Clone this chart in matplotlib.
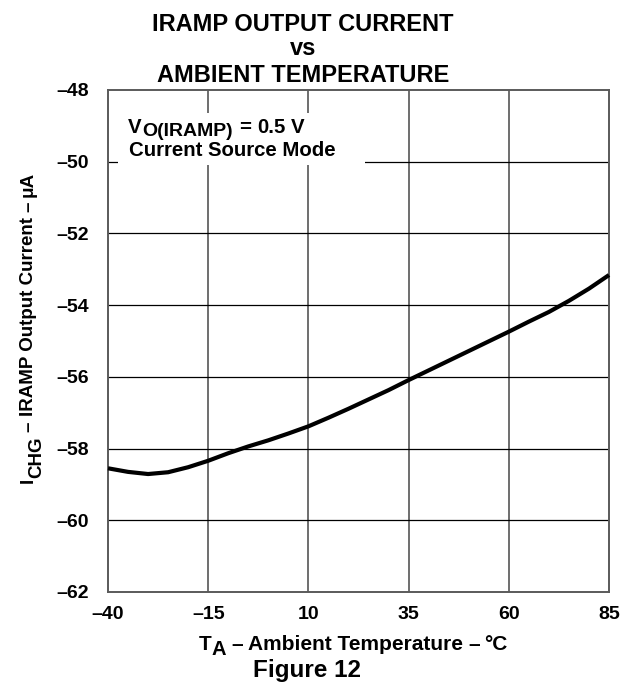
import matplotlib
matplotlib.use("Agg")
import matplotlib.pyplot as plt
from matplotlib.patches import Rectangle
from matplotlib.transforms import IdentityTransform

plt.rcParams['font.family'] = ['Liberation Sans', 'DejaVu Sans']
plt.rcParams['font.weight'] = 'bold'

# Data
temperature_c = [-40, -35, -30, -25, -20, -15, -10, -5, 0, 5, 10, 15, 20,
                 25, 30, 35, 40, 45, 50, 55, 60, 65, 70, 75, 80, 85]
iramp_current_ua = [-58.55, -58.65, -58.71, -58.66, -58.52, -58.34, -58.13,
                    -57.94, -57.77, -57.58, -57.38, -57.14, -56.89, -56.63,
                    -56.37, -56.09, -55.82, -55.55, -55.28, -55.01, -54.74,
                    -54.46, -54.19, -53.88, -53.54, -53.16]
x_ticks = [-40, -15, 10, 35, 60, 85]
y_ticks = [-62, -60, -58, -56, -54, -52, -50, -48]
x_tick_labels = ["\u201340", "\u201315", "10", "35", "60", "85"]
y_tick_labels = ["\u201362", "\u201360", "\u201358", "\u201356", "\u201354",
                 "\u201352", "\u201350", "\u201348"]

W, H = 633, 684
fig = plt.figure(figsize=(W / 100, H / 100), dpi=100)
fig.patch.set_facecolor('white')
renderer = fig.canvas.get_renderer()

left, right, top, bottom = 108, 609, 90, 592
ax = fig.add_axes([left / W, 1 - bottom / H, (right - left) / W, (bottom - top) / H])

ax.plot(temperature_c, iramp_current_ua, color='black', lw=3.0,
        solid_capstyle='butt', zorder=5, clip_on=False)

ax.set_xlim(-40, 85)
ax.set_ylim(-62, -48)
ax.set_xticks(x_ticks)
ax.set_xticklabels(x_tick_labels)
ax.set_yticks(y_ticks)
ax.set_yticklabels(y_tick_labels)
ax.tick_params(length=0, labelsize=14, pad=10)
ax.tick_params(axis='y', pad=14)
for lab in ax.get_xticklabels() + ax.get_yticklabels():
    lab.set_fontweight('bold')

for x in x_ticks[1:-1]:
    ax.axvline(x, color='#6e6e6e', lw=1.4, zorder=1)
for y in y_ticks[1:-1]:
    ax.axhline(y, color='black', lw=0.9, zorder=1)
for s in ax.spines.values():
    s.set_color('#5a5a5a')
    s.set_linewidth(1.4)
    s.set_zorder(2)

# white box behind annotation
ax.add_patch(Rectangle((0.02, 0.851), 0.493, 0.103, transform=ax.transAxes,
                       facecolor='white', edgecolor='none', zorder=3))


def text_width(s, size):
    t = fig.text(0, 0, s, fontsize=size, fontweight='bold')
    w = t.get_window_extent(renderer).width
    t.remove()
    return w


def rich(pieces, x_px, y_px, align='center', rotation=0):
    """pieces: (string, fontsize, baseline shift px (down), gap before px).
    x_px,y_px: anchor in pixel coords from top-left; for rotation=90 the
    x_px is the baseline position and y_px the center of the run."""
    widths = [text_width(s, size) for s, size, _, _ in pieces]
    total = sum(w + g for w, (_, _, _, g) in zip(widths, pieces))
    if rotation == 0:
        pos = x_px - total / 2 if align == 'center' else x_px
        for (s, size, dy, gap), w in zip(pieces, widths):
            pos += gap
            fig.text(pos, H - (y_px + dy), s, fontsize=size, fontweight='bold',
                     transform=IdentityTransform(), ha='left', va='baseline')
            pos += w
    else:
        pos = (H - y_px) - total / 2
        for (s, size, dy, gap), w in zip(pieces, widths):
            pos += gap
            fig.text(x_px + dy, pos, s, fontsize=size, fontweight='bold',
                     transform=IdentityTransform(), ha='left', va='baseline',
                     rotation=90, rotation_mode='anchor')
            pos += w


# annotation inside plot
rich([("V", 14.7, 0, 0), ("O(IRAMP)", 14.0, 3, 0.5), ("=", 14.7, 0, 6),
      ("0.5", 14.7, 0, 6), ("V", 14.7, 0, 5.5)], 128, 133, align='left')
rich([("Current Source Mode", 14.7, 0, 0)], 129, 155.5, align='left')

# titles
fig.text(303 / W, 1 - 31 / H, "IRAMP OUTPUT CURRENT", ha='center', va='baseline',
         fontsize=17, fontweight='bold')
fig.text(303 / W, 1 - 55 / H, "vs", ha='center', va='baseline',
         fontsize=17, fontweight='bold')
fig.text(303 / W, 1 - 82 / H, "AMBIENT TEMPERATURE", ha='center', va='baseline',
         fontsize=17, fontweight='bold')

# x label
rich([("T", 15, 0, 0), ("A", 14.5, 5, 0), ("\u2013", 15, 0, 5),
      ("Ambient Temperature", 15, 0, 5), ("\u2013", 15, 0, 5),
      ("\u00b0C", 15, 0, 5)], 353.5, 650)
fig.text(307 / W, 1 - 677 / H, "Figure 12", ha='center', va='baseline',
         fontsize=17.5, fontweight='bold')

# y label
rich([("I", 13.5, 0, 0), ("CHG", 13.5, 8, 0), ("\u2013", 13.5, 0, 5),
      ("IRAMP Output Current", 13.5, 0, 5), ("\u2013", 13.5, 0, 5),
      ("\u03bcA", 13.5, 0, 5)], 33, 327.5, rotation=90)

fig.savefig("out.png", dpi=100, facecolor='white')
